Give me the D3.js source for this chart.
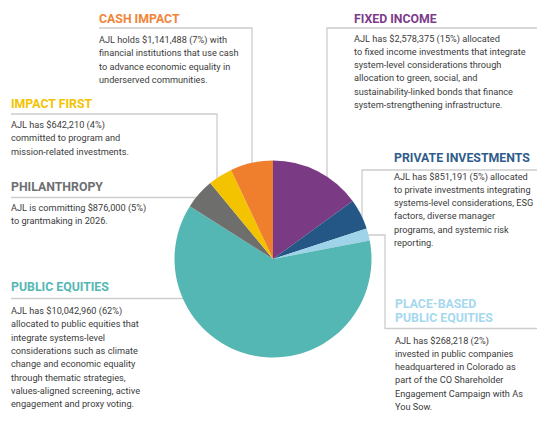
<!DOCTYPE html>
<html>
<head>
<meta charset="utf-8">
<script src="https://cdn.jsdelivr.net/npm/d3@7"></script>
<style>
  html, body { margin: 0; padding: 0; background: #ffffff; }
  svg { display: block; font-family: Roboto, "Noto Sans", sans-serif; }
</style>
</head>
<body>
<svg id="chart" width="550" height="429"></svg>
<script>
// ---- data ----
const categories = ["Fixed Income", "Private Investments", "Place-Based Public Equities",
  "Public Equities", "Philanthropy", "Impact First", "Cash Impact"];
const amounts = [2578375, 851191, 268218, 10042960, 876000, 642210, 1141488];
const percents = [15, 5, 2, 62, 5, 4, 7];
const sliceColors = ["#7b3a84", "#255786", "#9fd3ea", "#55b7b3", "#6e6f6d", "#f3c300", "#f07f2d"];
const titleColors = ["#7d3c8b", "#2f5c8c", "#a6d8ee", "#55b7b3", "#6e6f71", "#f3c300", "#f08538"];
const titleLines = [
  ["FIXED INCOME"],
  ["PRIVATE INVESTMENTS"],
  ["PLACE-BASED", "PUBLIC EQUITIES"],
  ["PUBLIC EQUITIES"],
  ["PHILANTHROPY"],
  ["IMPACT FIRST"],
  ["CASH IMPACT"]
];
const bodyLines = [
  ["AJL has $2,578,375 (15%) allocated",
   "to fixed income investments that integrate",
   "system-level considerations through",
   "allocation to green, social, and",
   "sustainability-linked bonds that finance",
   "system-strengthening infrastructure."],
  ["AJL has $851,191 (5%) allocated",
   "to private investments integrating",
   "systems-level considerations, ESG",
   "factors, diverse manager",
   "programs, and systemic risk",
   "reporting."],
  ["AJL has $268,218 (2%)",
   "invested in public companies",
   "headquartered in Colorado as",
   "part of the CO Shareholder",
   "Engagement Campaign with As",
   "You Sow."],
  ["AJL has $10,042,960 (62%)",
   "allocated to public equities that",
   "integrate systems-level",
   "considerations such as climate",
   "change and economic equality",
   "through thematic strategies,",
   "values-aligned screening, active",
   "engagement and proxy voting."],
  ["AJL is committing $876,000 (5%)",
   "to grantmaking in 2026."],
  ["AJL has $642,210 (4%)",
   "committed to program and",
   "mission-related investments."],
  ["AJL holds $1,141,488 (7%) with",
   "financial institutions that use cash",
   "to advance economic equality in",
   "underserved communities."]
];

// ---- layout ----
const cx = 273, cy = 259, r = 98.5;
const titleSize = 12.3, bodySize = 9.2, lineH = 13.3;
const ruleColor = "#cdcdcd";
// per-category annotation layout (same order as categories)
// x: text x; ty: first title baseline; ruleY: rule y; rule from rx1 to rx2; by: first body baseline
// conn: how the rule connects to the pie
const layout = [
  { x: 354, ty: 23,  ruleY: 28,  rx1: 537, rx2: 327, by: 41.5, conn: { type: "down", x: 327 } },
  { x: 394, ty: 162, ruleY: 170, rx1: 537, rx2: 362, by: 179.5, conn: { type: "down", x: 362 } },
  { x: 395, ty: 307.5, ruleY: 328.5, rx1: 537, rx2: 385, by: 343.5, conn: { type: "upright", x: 385, y: 235 } },
  { x: 11,  ty: 291, ruleY: 298.5, rx1: 11, rx2: null, by: 314, conn: { type: "horiz" } },
  { x: 11,  ty: 190.5, ruleY: 197.5, rx1: 11, rx2: null, by: 211, conn: { type: "horiz" } },
  { x: 11,  ty: 108, ruleY: 114, rx1: 11, rx2: 217, by: 128, conn: { type: "down", x: 217 } },
  { x: 99,  ty: 22.5, ruleY: 28, rx1: 99, rx2: 252, by: 43, conn: { type: "down", x: 252 } }
];

const svg = d3.select("#chart");

// connectors (drawn under the pie, ending just inside the circle)
const inset = 4;
function connectorPoints(L) {
  const c = L.conn;
  if (c.type === "down") {
    const yEdge = cy - Math.sqrt(r * r - (c.x - cx) * (c.x - cx)) + inset;
    return [[L.rx1, L.ruleY], [c.x, L.ruleY], [c.x, yEdge]];
  }
  if (c.type === "horiz") {
    const xEdge = cx - Math.sqrt(r * r - (L.ruleY - cy) * (L.ruleY - cy)) + inset;
    return [[L.rx1, L.ruleY], [xEdge, L.ruleY]];
  }
  if (c.type === "upright") {
    const xEdge = cx + Math.sqrt(r * r - (c.y - cy) * (c.y - cy)) - inset;
    return [[L.rx1, L.ruleY], [c.x, L.ruleY], [c.x, c.y], [xEdge, c.y]];
  }
}
const line = d3.line();
svg.append("g").selectAll("path")
  .data(layout)
  .join("path")
  .attr("d", d => line(connectorPoints(d)))
  .attr("fill", "none")
  .attr("stroke", ruleColor)
  .attr("stroke-width", 1.3);

// pie
const pie = d3.pie().sort(null).value(d => d.pct);
const arc = d3.arc().innerRadius(0).outerRadius(r);
const pieData = pie(categories.map((c, i) => ({ name: c, pct: percents[i], amount: amounts[i], i })));
svg.append("g")
  .attr("transform", `translate(${cx},${cy})`)
  .selectAll("path")
  .data(pieData)
  .join("path")
  .attr("d", arc)
  .attr("fill", d => sliceColors[d.data.i]);

// annotation text
const ann = svg.append("g").selectAll("g")
  .data(categories.map((c, i) => i))
  .join("g");
ann.each(function (i) {
  const g = d3.select(this);
  const L = layout[i];
  g.selectAll("text.title")
    .data(titleLines[i])
    .join("text")
    .attr("class", "title")
    .attr("x", L.x)
    .attr("y", (d, k) => L.ty + k * 14)
    .attr("fill", titleColors[i])
    .attr("font-size", titleSize)
    .attr("font-weight", 700)
    .text(d => d);
  g.selectAll("text.body")
    .data(bodyLines[i])
    .join("text")
    .attr("class", "body")
    .attr("x", L.x)
    .attr("y", (d, k) => L.by + k * lineH)
    .attr("fill", "#3c3c3c")
    .attr("font-size", bodySize)
    .text(d => d);
});
</script>
</body>
</html>
